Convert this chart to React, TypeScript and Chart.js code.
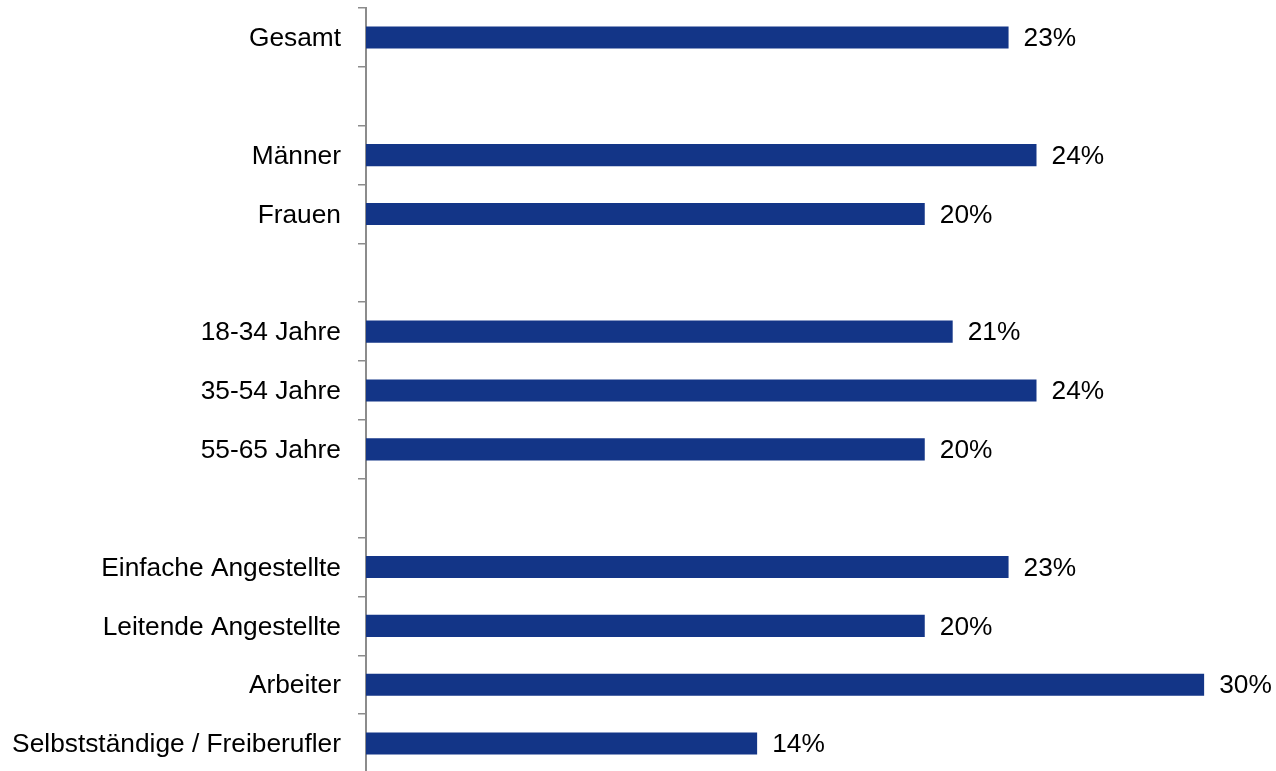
import React, { useEffect, useRef } from "react";
import { Chart, registerables } from "chart.js";

Chart.register(...registerables);

const categories: string[] = [
  "Gesamt",
  "",
  "Männer",
  "Frauen",
  "",
  "18-34 Jahre",
  "35-54 Jahre",
  "55-65 Jahre",
  "",
  "Einfache Angestellte",
  "Leitende Angestellte",
  "Arbeiter",
  "Selbstständige / Freiberufler",
];

const values: (number | null)[] = [23, null, 24, 20, null, 21, 24, 20, null, 23, 20, 30, 14];

const FONT = "Arial, 'Liberation Sans', sans-serif";
const FONT_SIZE = 26.3;

const labelsPlugin = {
  id: "labelsPlugin",
  afterDatasetsDraw(chart: any) {
    const ctx = chart.ctx;
    const meta = chart.getDatasetMeta(0);
    const yScale = chart.scales.y;
    ctx.save();
    ctx.font = `${FONT_SIZE}px ${FONT}`;
    ctx.fillStyle = "#000000";
    ctx.textBaseline = "middle";
    // category labels
    ctx.textAlign = "right";
    categories.forEach((c, i) => {
      if (!c) return;
      ctx.fillText(c, yScale.right - 8 - 17, yScale.getPixelForValue(i) + 1.5);
    });
    // value labels
    ctx.textAlign = "left";
    meta.data.forEach((bar: any, i: number) => {
      const v = values[i];
      if (v === null || v === undefined) return;
      ctx.fillText(`${v}%`, bar.x + 15, bar.y + 1.5);
    });
    ctx.restore();
  },
};

export default function App() {
  const ref = useRef<HTMLCanvasElement>(null);
  useEffect(() => {
    const chart = new Chart(ref.current as HTMLCanvasElement, {
      type: "bar",
      data: {
        labels: categories,
        datasets: [
          {
            data: values,
            backgroundColor: "#133587",
            borderWidth: 0,
            barPercentage: 0.75,
            categoryPercentage: 0.5,
          },
        ],
      },
      options: {
        indexAxis: "y",
        animation: false,
        responsive: false,
        maintainAspectRatio: false,
        layout: { padding: { top: 8, right: 16, bottom: 0, left: 0 } },
        plugins: {
          legend: { display: false },
          tooltip: { enabled: false },
        },
        scales: {
          x: {
            display: false,
            min: 0,
            max: 32,
          },
          y: {
            afterFit(scale: any) {
              scale.width = 366;
              scale.paddingTop = 0;
              scale.paddingBottom = 0;
            },
            grid: {
              offset: true,
              drawOnChartArea: false,
              drawTicks: true,
              tickLength: 8,
              color: "#8c8c8c",
              lineWidth: 1.5,
            },
            border: { display: true, color: "#8c8c8c", width: 2 },
            ticks: {
              display: false,
              autoSkip: false,
            },
          },
        },
      },
      plugins: [labelsPlugin],
    });
    return () => chart.destroy();
  }, []);
  return (
    <div
      style={{
        position: "fixed",
        left: 0,
        top: 0,
        width: 1276,
        height: 771,
        overflow: "hidden",
        background: "#ffffff",
      }}
    >
      <canvas ref={ref} width={1276} height={773} style={{ display: "block" }} />
    </div>
  );
}
